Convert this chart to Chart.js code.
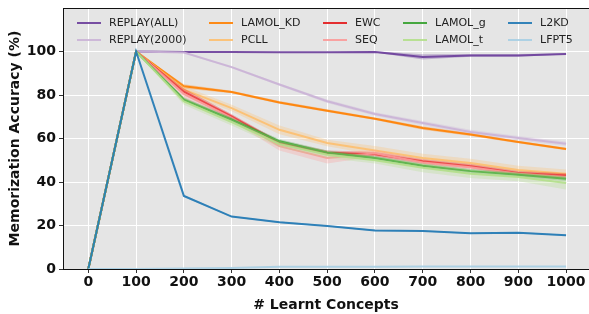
<!DOCTYPE html>
<html>
<head>
<meta charset="utf-8">
<script src="https://cdn.jsdelivr.net/npm/chart.js@4.4.0/dist/chart.umd.min.js"></script>
<style>
  body { margin: 0; background: #fff; }
  canvas { display: block; }
</style>
</head>
<body>
<canvas id="memChart" width="589" height="314"></canvas>
<script>
"use strict";

// number of learnt concepts (x axis)
const concepts = [0, 100, 200, 300, 400, 500, 600, 700, 800, 900, 1000];
const xTicks = [0, 100, 200, 300, 400, 500, 600, 700, 800, 900, 1000];
const yTicks = [0, 20, 40, 60, 80, 100];

// mean memorization accuracy per method
const replayAll  = [0, 100, 99.8, 99.8, 99.7, 99.6, 99.8, 97.5, 98.2, 98.2, 98.9];
const replay2000 = [0, 100, 99.5, 92.8, 84.8, 77.1, 71.3, 67.1, 63.0, 60.2, 57.6];
const lamolKd    = [0, 100, 84.0, 81.4, 76.6, 72.8, 69.1, 64.8, 61.8, 58.4, 55.2];
const pcll       = [0, 100, 82.5, 74.0, 64.0, 57.9, 54.5, 51.0, 48.7, 45.5, 43.8];
const ewc        = [0, 100, 81.5, 70.2, 57.9, 53.5, 52.8, 49.5, 47.3, 44.1, 43.0];
const seq        = [0, 100, 80.5, 69.5, 56.5, 51.0, 53.2, 49.0, 46.8, 43.8, 42.3];
const lamolG     = [0, 100, 77.9, 68.7, 58.7, 53.5, 51.0, 47.5, 45.0, 43.3, 41.5];
const lamolT     = [0, 100, 77.0, 67.5, 57.5, 52.5, 50.0, 46.5, 43.8, 42.3, 39.5];
const l2kd       = [0, 100, 33.6, 24.1, 21.5, 19.8, 17.7, 17.5, 16.4, 16.7, 15.5];
const lfpt5      = [0, 0, 0.2, 0.5, 1.0, 1.0, 1.0, 1.1, 1.1, 1.1, 1.1];

// half width of the shaded band around each mean
const replayAllSpread  = [0, 0, 0, 0, 0, 0, 0.3, 1.2, 0.6, 0.6, 0.3];
const replay2000Spread = [0, 0, 0.3, 0.5, 0.5, 0.8, 0.8, 1, 1, 1, 1];
const lamolKdSpread    = [0, 0, 1, 0.6, 0.6, 0.6, 0.6, 0.8, 0.6, 0.6, 0.6];
const pcllSpread       = [0, 0, 1.5, 1.5, 2, 1.5, 2, 2, 2, 2, 2];
const ewcSpread        = [0, 0, 1.5, 1, 1, 1, 1, 1, 1, 1, 1];
const seqSpread        = [0, 0, 2, 1.5, 2, 2.5, 1.5, 1.5, 1, 1, 1];
const lamolGSpread     = [0, 0, 1, 1, 1, 1, 1, 1, 1, 1, 1];
const lamolTSpread     = [0, 0, 1.5, 1.5, 1.5, 1.5, 1.5, 2, 2, 2, 3];
const l2kdSpread       = [0, 0, 0.5, 0.3, 0.3, 0.3, 0.3, 0.3, 0.3, 0.3, 0.3];
const lfpt5Spread      = [0, 0, 0, 0, 0, 0, 0, 0, 0, 0, 0];

const series = [
  { label: 'REPLAY(ALL)',  rgb: [106, 61, 154],  values: replayAll,  spread: replayAllSpread },
  { label: 'REPLAY(2000)', rgb: [202, 178, 214], values: replay2000, spread: replay2000Spread },
  { label: 'LAMOL_KD',     rgb: [255, 127, 0],   values: lamolKd,    spread: lamolKdSpread },
  { label: 'PCLL',         rgb: [253, 191, 111], values: pcll,       spread: pcllSpread },
  { label: 'EWC',          rgb: [227, 26, 28],   values: ewc,        spread: ewcSpread },
  { label: 'SEQ',          rgb: [251, 154, 153], values: seq,        spread: seqSpread },
  { label: 'LAMOL_g',      rgb: [51, 160, 44],   values: lamolG,     spread: lamolGSpread },
  { label: 'LAMOL_t',      rgb: [178, 223, 138], values: lamolT,     spread: lamolTSpread },
  { label: 'L2KD',         rgb: [31, 120, 180],  values: l2kd,       spread: l2kdSpread },
  { label: 'LFPT5',        rgb: [166, 206, 227], values: lfpt5,      spread: lfpt5Spread }
];

function rgba(rgb, a) {
  return 'rgba(' + rgb[0] + ',' + rgb[1] + ',' + rgb[2] + ',' + a + ')';
}

// build band (lower, upper) + mean line for each method
const datasets = [];
let drawOrder = 0;
series.forEach(s => {
  datasets.push({
    label: s.label + '_lo',
    data: concepts.map((x, i) => ({ x: x, y: s.values[i] - s.spread[i] })),
    borderWidth: 0,
    pointRadius: 0,
    fill: false,
    order: -(drawOrder++)
  });
  datasets.push({
    label: s.label + '_hi',
    data: concepts.map((x, i) => ({ x: x, y: s.values[i] + s.spread[i] })),
    borderWidth: 0,
    pointRadius: 0,
    fill: '-1',
    backgroundColor: rgba(s.rgb, 0.3),
    order: -(drawOrder++)
  });
  datasets.push({
    label: s.label,
    isMean: true,
    data: concepts.map((x, i) => ({ x: x, y: s.values[i] })),
    borderColor: rgba(s.rgb, 0.9),
    borderWidth: 2,
    pointRadius: 0,
    fill: false,
    tension: 0,
    order: -(drawOrder++)
  });
});

// grey panel behind the plot + frame around it
const panelPlugin = {
  id: 'panel',
  beforeDraw(chart) {
    const a = chart.chartArea;
    const ctx = chart.ctx;
    ctx.save();
    ctx.fillStyle = '#e5e5e5';
    ctx.fillRect(a.left, a.top, a.right - a.left, a.bottom - a.top);
    ctx.restore();
  },
  afterDraw(chart) {
    const a = chart.chartArea;
    const ctx = chart.ctx;
    ctx.save();
    ctx.strokeStyle = '#111';
    ctx.lineWidth = 1;
    ctx.strokeRect(a.left + 0.5, a.top + 0.5, a.right - a.left, a.bottom - a.top);
    ctx.restore();
  }
};

// legend laid out column-wise, 5 columns x 2 rows
const legendPlugin = {
  id: 'colLegend',
  afterDatasetsDraw(chart) {
    const ctx = chart.ctx;
    const a = chart.chartArea;
    const colX = [14, 146, 260, 340, 445];
    const rowY = [15, 32];
    const items = chart.data.datasets.filter(d => d.isMean);
    ctx.save();
    ctx.font = '11px "DejaVu Sans"';
    ctx.textBaseline = 'middle';
    ctx.fillStyle = '#222';
    items.forEach((d, i) => {
      const col = Math.floor(i / 2);
      const row = i % 2;
      const x = a.left + colX[col];
      const y = a.top + rowY[row];
      ctx.strokeStyle = d.borderColor;
      ctx.lineWidth = 2;
      ctx.beginPath();
      ctx.moveTo(x, y);
      ctx.lineTo(x + 24, y);
      ctx.stroke();
      ctx.fillText(d.label, x + 32, y + 0.5);
    });
    ctx.restore();
  }
};

const tickFont = { family: 'DejaVu Sans', size: 14, weight: 'bold' };
const titleFont = { family: 'DejaVu Sans', size: 14, weight: 'bold' };

new Chart(document.getElementById('memChart'), {
  type: 'line',
  data: { datasets: datasets },
  plugins: [panelPlugin, legendPlugin],
  options: {
    responsive: false,
    animation: false,
    layout: { padding: { top: 8, right: 0, left: 0, bottom: 0 } },
    plugins: {
      legend: { display: false },
      tooltip: { enabled: false }
    },
    scales: {
      x: {
        type: 'linear',
        min: -53,
        max: 1048,
        afterBuildTicks(scale) { scale.ticks = xTicks.map(v => ({ value: v })); },
        afterFit(scale) {
          scale.height = 45;
          scale.paddingLeft = 0;
          scale.paddingRight = 0;
        },
        grid: { color: '#ffffff', lineWidth: 1, tickColor: '#333', tickLength: 4 },
        border: { display: false },
        ticks: { font: tickFont, color: '#111', padding: 1, maxRotation: 0, callback: v => String(v) },
        title: { display: true, text: '# Learnt Concepts', font: titleFont, color: '#111', padding: { top: 3, bottom: 0 } }
      },
      y: {
        min: 0,
        max: 120,
        afterBuildTicks(scale) { scale.ticks = yTicks.map(v => ({ value: v })); },
        afterFit(scale) {
          scale.width = 63;
          scale.paddingTop = 0;
          scale.paddingBottom = 0;
        },
        grid: { color: '#ffffff', lineWidth: 1, tickColor: '#333', tickLength: 4 },
        border: { display: false },
        ticks: { font: tickFont, color: '#111', padding: 3, callback: v => String(v) },
        title: { display: true, text: 'Memorization Accuracy (%)', font: titleFont, color: '#111', padding: { top: 7, bottom: 0 } }
      }
    }
  }
});
</script>
</body>
</html>
